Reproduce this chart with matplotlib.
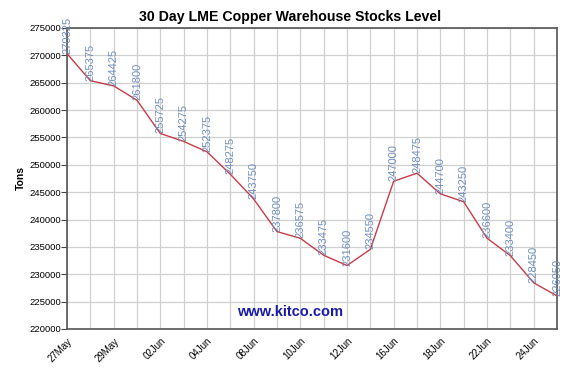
import matplotlib
matplotlib.use("Agg")
import matplotlib.pyplot as plt

plt.rcParams['font.family'] = ['Liberation Sans', 'DejaVu Sans']

dates = ["27May", "28May", "29May", "01Jun", "02Jun", "03Jun", "04Jun", "05Jun",
         "08Jun", "09Jun", "10Jun", "11Jun", "12Jun", "15Jun", "16Jun", "17Jun",
         "18Jun", "19Jun", "22Jun", "23Jun", "24Jun", "25Jun"]
stocks = [270325, 265375, 264425, 261800, 255725, 254275, 252375, 248275,
          243750, 237800, 236575, 233475, 231600, 234550, 247000, 248475,
          244700, 243250, 236600, 233400, 228450, 226050]
yticks = list(range(220000, 275001, 5000))

fig = plt.figure(figsize=(5.81, 3.88), dpi=100)
ax = fig.add_axes([67/581, 1 - 329/388, (557-67)/581, (329-28)/388])

x = list(range(len(stocks)))
ax.plot(x, stocks, color="#c83c46", lw=1.0, zorder=3)
for xi, v in zip(x, stocks):
    ax.text(xi, v, str(v), rotation=90, ha="center", va="bottom",
            fontsize=8, color="#6f8fbf", zorder=4, clip_on=False)

ax.set_xlim(0, len(stocks) - 1)
ax.set_ylim(220000, 275000)
ax.set_yticks(yticks)
ax.set_yticklabels([str(t) for t in yticks], fontsize=6.8)
ax.set_xticks(x)
ax.set_xticklabels([d if i % 2 == 0 else "" for i, d in enumerate(dates)],
                   rotation=45, ha="right", rotation_mode="anchor", fontsize=7)
ax.tick_params(axis="x", length=0, pad=5)
ax.tick_params(axis="y", length=4, width=0.8, color="#444444", pad=0.5)

ax.grid(True, color="#d0d0d0", lw=0.9, zorder=0)
ax.set_axisbelow(True)
for s in ax.spines.values():
    s.set_color("#555555")
    s.set_linewidth(1.2)

ax.set_ylabel("Tons", fontsize=7.5, fontweight="bold", labelpad=2)
fig.text(290/581, 1 - 17/388, "30 Day LME Copper Warehouse Stocks Level",
         ha="center", va="center", fontsize=10.2, fontweight="bold")
ax.text(0.455, 0.055, "www.kitco.com", transform=ax.transAxes, ha="center",
        va="center", fontsize=10.5, fontweight="bold", color="#1a1aaa")

fig.savefig("out.png", dpi=100)
